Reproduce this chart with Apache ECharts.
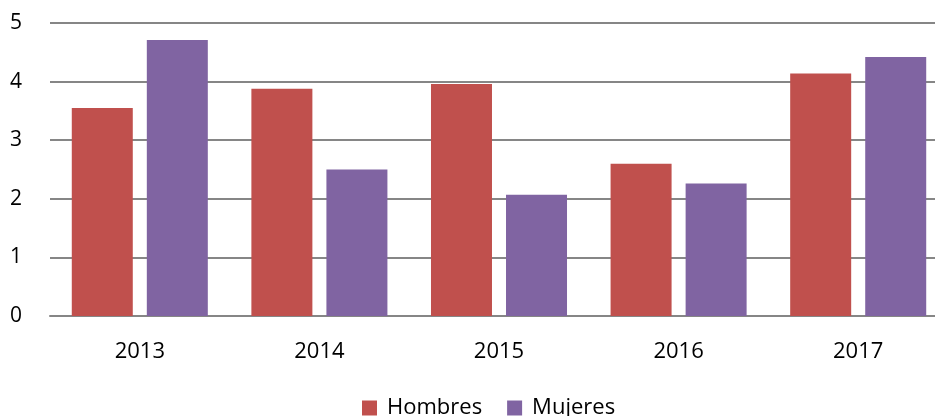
<!DOCTYPE html>
<html><head><meta charset="utf-8">
<script src="https://cdn.jsdelivr.net/npm/echarts@6/dist/echarts.min.js"></script>
<style>html,body{margin:0;padding:0;background:#fff;overflow:hidden}#c{width:935px;height:416px}</style>
</head><body><div id="c"></div>
<script>
const categories = ['2013','2014','2015','2016','2017'];
const hombres = [3.55, 3.88, 3.96, 2.60, 4.14];
const mujeres = [4.71, 2.50, 2.07, 2.26, 4.42];
const seriesNames = ['Hombres','Mujeres'];

const font = '"Open Sans", "Liberation Sans", sans-serif';
const chart = echarts.init(document.getElementById('c'), null, {renderer:'canvas', width:935, height:416});
chart.setOption({
  animation:false,
  grid:{left:50,right:-13,top:23,bottom:100,containLabel:false,outerBoundsMode:'none'},
  legend:{
    data:seriesNames, top:392, left:357,
    itemWidth:15, itemHeight:15, itemGap:25, icon:'rect',
    textStyle:{fontFamily:font,fontSize:22,color:'#000',padding:[0,0,5,5]}
  },
  xAxis:{
    type:'category', data:categories,
    axisTick:{show:false},
    axisLine:{lineStyle:{color:'#868686',width:2}},
    axisLabel:{fontFamily:font,fontSize:22,color:'#000',margin:25}
  },
  yAxis:{
    type:'value', min:0, max:5, interval:1,
    axisLine:{show:false}, axisTick:{show:false},
    splitLine:{lineStyle:{color:'#868686',width:2}},
    axisLabel:{fontFamily:font,fontSize:21,color:'#000',margin:28}
  },
  series:[
    {name:seriesNames[0],type:'bar',data:hombres,barWidth:61,barGap:'23%',itemStyle:{color:'#C0504D'}},
    {name:seriesNames[1],type:'bar',data:mujeres,barWidth:61,barGap:'23%',itemStyle:{color:'#8064A2'}}
  ]
});
</script></body></html>
